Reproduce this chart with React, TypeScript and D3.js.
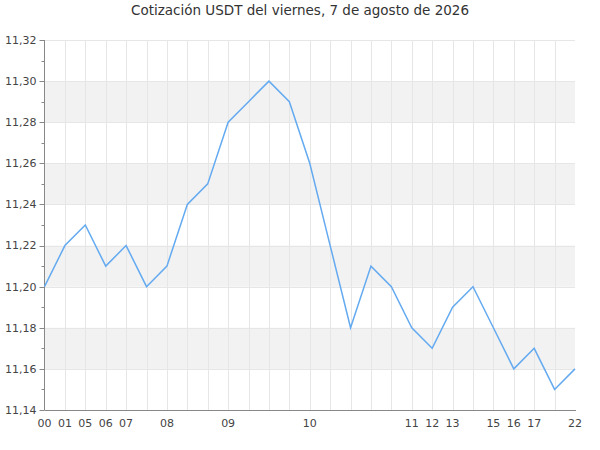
import React, { useRef, useEffect } from 'react';
import * as d3 from 'd3';

const title = 'Cotización USDT del viernes, 7 de agosto de 2026';

// one entry per quote; label is the hour, shown only where it changes
const hourLabels = ['00', '01', '05', '06', '07', '', '08', '', '', '09', '', '', '', '10', '', '', '', '', '11', '12', '13', '', '15', '16', '17', '', '22'];
const prices = [11.2, 11.22, 11.23, 11.21, 11.22, 11.2, 11.21, 11.24, 11.25, 11.28, 11.29, 11.3, 11.29, 11.26, 11.22, 11.18, 11.21, 11.2, 11.18, 11.17, 11.19, 11.2, 11.18, 11.16, 11.17, 11.15, 11.16];

const yDomain = [11.14, 11.32];
const yTicks = [11.14, 11.16, 11.18, 11.2, 11.22, 11.24, 11.26, 11.28, 11.3, 11.32];

const W = 600;
const H = 450;

export default function App() {
  const ref = useRef<SVGSVGElement | null>(null);

  useEffect(() => {
    if (!ref.current) return;
    const svg = d3.select(ref.current);
    svg.selectAll('*').remove();

    const margin = { top: 40, right: 25, bottom: 40, left: 44.5 };
    const idx = prices.map((_, i) => i);

    const x = d3.scalePoint<number>().domain(idx).range([margin.left, W - margin.right]);
    const y = d3.scaleLinear().domain(yDomain).range([H - margin.bottom, margin.top]);

    const fmt = (v: number) => v.toFixed(2).replace('.', ',');

    // alternating bands
    for (let i = 0; i < yTicks.length - 1; i++) {
      if (i % 2 === 1) {
        svg.append('rect')
          .attr('x', margin.left)
          .attr('y', y(yTicks[i + 1]))
          .attr('width', W - margin.right - margin.left)
          .attr('height', y(yTicks[i]) - y(yTicks[i + 1]))
          .attr('fill', '#f2f2f2');
      }
    }

    // horizontal grid
    svg.append('g')
      .selectAll('line')
      .data(yTicks)
      .join('line')
      .attr('x1', margin.left)
      .attr('x2', W - margin.right)
      .attr('y1', d => Math.round(y(d)) + 0.5)
      .attr('y2', d => Math.round(y(d)) + 0.5)
      .attr('stroke', '#e6e6e6');

    // vertical grid
    svg.append('g')
      .selectAll('line')
      .data(idx.slice(1, -1))
      .join('line')
      .attr('x1', d => Math.round(x(d)!) + 0.5)
      .attr('x2', d => Math.round(x(d)!) + 0.5)
      .attr('y1', margin.top)
      .attr('y2', H - margin.bottom)
      .attr('stroke', '#e6e6e6');

    // y axis
    const yAxis = svg.append('g').attr('transform', `translate(${margin.left},0)`);
    yAxis.append('line')
      .attr('x1', 0).attr('x2', 0)
      .attr('y1', margin.top).attr('y2', H - margin.bottom)
      .attr('stroke', '#888');
    const minor = d3.range(yTicks.length - 1).map(i => (yTicks[i] + yTicks[i + 1]) / 2);
    yAxis.selectAll('line.minor')
      .data(minor)
      .join('line')
      .attr('class', 'minor')
      .attr('x1', -3).attr('x2', 0)
      .attr('y1', d => Math.round(y(d)) + 0.5)
      .attr('y2', d => Math.round(y(d)) + 0.5)
      .attr('stroke', '#888');
    yAxis.selectAll('line.major')
      .data(yTicks)
      .join('line')
      .attr('class', 'major')
      .attr('x1', -5).attr('x2', 0)
      .attr('y1', d => Math.round(y(d)) + 0.5)
      .attr('y2', d => Math.round(y(d)) + 0.5)
      .attr('stroke', '#888');
    yAxis.selectAll('text')
      .data(yTicks)
      .join('text')
      .attr('x', -8)
      .attr('y', d => y(d))
      .attr('dy', '0.35em')
      .attr('text-anchor', 'end')
      .attr('fill', '#444')
      .style('font-size', '11px')
      .text(fmt);

    // x axis
    svg.append('line')
      .attr('x1', margin.left).attr('x2', W - margin.right + 1)
      .attr('y1', H - margin.bottom + 0.5).attr('y2', H - margin.bottom + 0.5)
      .attr('stroke', '#888');
    svg.append('g')
      .selectAll('text')
      .data(idx.filter(i => hourLabels[i] !== ''))
      .join('text')
      .attr('x', d => x(d)!)
      .attr('y', H - margin.bottom + 17)
      .attr('text-anchor', 'middle')
      .attr('fill', '#444')
      .style('font-size', '11px')
      .text(d => hourLabels[d]);

    // price line
    const line = d3.line<number>()
      .x((_, i) => x(i)!)
      .y(d => y(d));
    svg.append('path')
      .datum(prices)
      .attr('fill', 'none')
      .attr('stroke', '#64aaf0')
      .attr('stroke-width', 1.5)
      .attr('d', line);

    // title
    svg.append('text')
      .attr('x', W / 2)
      .attr('y', 15)
      .attr('text-anchor', 'middle')
      .attr('fill', '#333')
      .style('font-size', '13.5px')
      .text(title);
  }, []);

  return (
    <div style={{ position: 'absolute', left: 0, top: 0, width: W, height: H, background: '#fff' }}>
      <svg ref={ref} width={W} height={H} style={{ fontFamily: '"DejaVu Sans", sans-serif', display: 'block' }} />
    </div>
  );
}
